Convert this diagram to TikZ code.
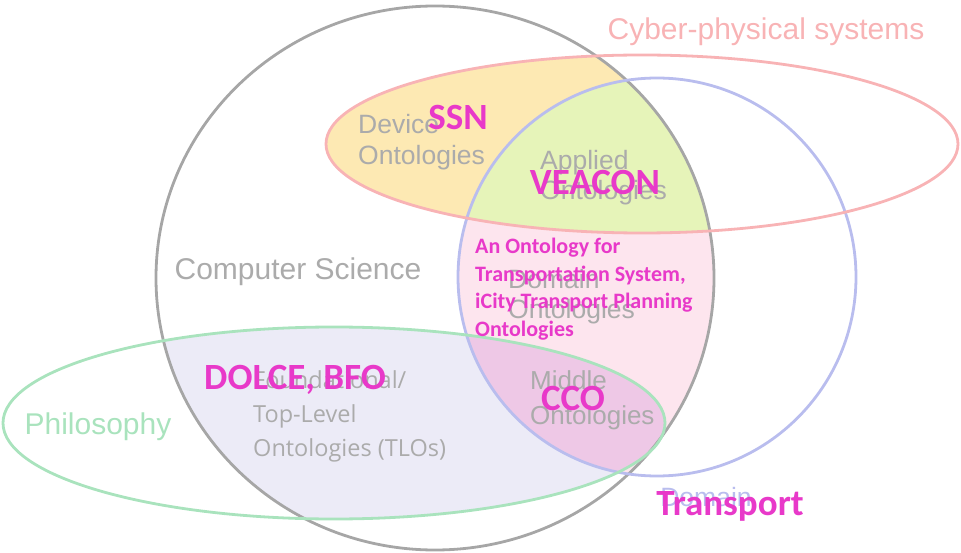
\documentclass[tikz,border=0pt]{standalone}
\usepackage{fontspec}
\setmainfont{Liberation Sans}
\newfontfamily\calfont{Carlito}
\newfontfamily\segfont{Open Sans}
\definecolor{csgray}{HTML}{A6A6A6}
\definecolor{txtgray}{HTML}{ABABAB}
\definecolor{cyberred}{HTML}{F8B3B5}
\definecolor{domblue}{HTML}{B9BDEE}
\definecolor{philgreen}{HTML}{A9E3BD}
\definecolor{yellowfill}{HTML}{FDE9B3}
\definecolor{greenfill}{HTML}{E6F4B9}
\definecolor{pinkfill}{HTML}{FDE5EE}
\definecolor{lavfill}{HTML}{ECEBF7}
\definecolor{purplefill}{HTML}{EEC8E6}
\definecolor{magentatxt}{HTML}{E839C9}
\def\csshape{(435,278) ellipse [x radius=279, y radius=272]}
\def\cybershape{(642,144) ellipse [x radius=316, y radius=89]}
\def\domshape{(657,277) circle (199)}
\def\philshape{(334,423) ellipse [x radius=331, y radius=96]}
\begin{document}
\begin{tikzpicture}[x=1pt,y=-1pt,
  ring/.style={line width=2.8pt},
  setlabel/.style={inner sep=0pt, font=\fontsize{30}{36}\selectfont},
  ontolabel/.style={inner sep=0pt, anchor=west, align=left, text=txtgray},
  example/.style={inner sep=0pt, text=magentatxt, font=\calfont\bfseries\fontsize{37}{44}\selectfont}]
\useasboundingbox (0,0) rectangle (961,553);
\begin{scope}
\clip \csshape;
\fill[lavfill] \philshape;
\fill[yellowfill] \cybershape;
\clip \domshape;
\fill[pinkfill] \domshape;
\begin{scope}
\clip \cybershape;
\fill[greenfill] \domshape;
\end{scope}
\clip \philshape;
\fill[purplefill] \domshape;
\end{scope}
\draw[ring, csgray] \csshape;
\draw[ring, domblue] \domshape;
\draw[ring, philgreen] \philshape;
\draw[ring, cyberred] \cybershape;
\node[setlabel, text=cyberred] (cyber) at (766,32) {Cyber-physical systems};
\node[setlabel, text=txtgray] (cs) at (298,272) {Computer Science};
\node[setlabel, text=philgreen] (phil) at (98,427) {Philosophy};
\node[setlabel, text=domblue, font=\fontsize{26.5}{31}\selectfont] (domain) at (706,497) {Domain};
\node[ontolabel, font=\fontsize{26.5}{31}\selectfont] (device) at (358,142) {Device\\Ontologies};
\node[ontolabel, font=\fontsize{26.5}{30}\selectfont] (applied) at (540,178) {Applied\\Ontologies};
\node[ontolabel, font=\fontsize{26.5}{30}\selectfont] (domonto) at (508,297) {Domain\\Ontologies};
\node[ontolabel, font=\fontsize{26}{35}\selectfont] (middle) at (530,400) {Middle\\Ontologies};
\node[ontolabel, font=\segfont\fontsize{23.5}{34}\selectfont] (tlo) at (253,416) {Foundational/\\Top-Level\\Ontologies (TLOs)};
\node[example] (ssn) at (458,117) {SSN};
\node[example] (veacon) at (595,182) {VEACON};
\node[example, anchor=west, align=left, font=\calfont\bfseries\fontsize{22}{27.7}\selectfont] (transsys) at (475,289) {An Ontology for\\Transportation System,\\iCity Transport Planning\\Ontologies};
\node[example] (dolce) at (295,380) {DOLCE, BFO};
\node[example] (cco) at (573,398) {CCO};
\node[example] (transport) at (730,506) {Transport};
\end{tikzpicture}
\end{document}
